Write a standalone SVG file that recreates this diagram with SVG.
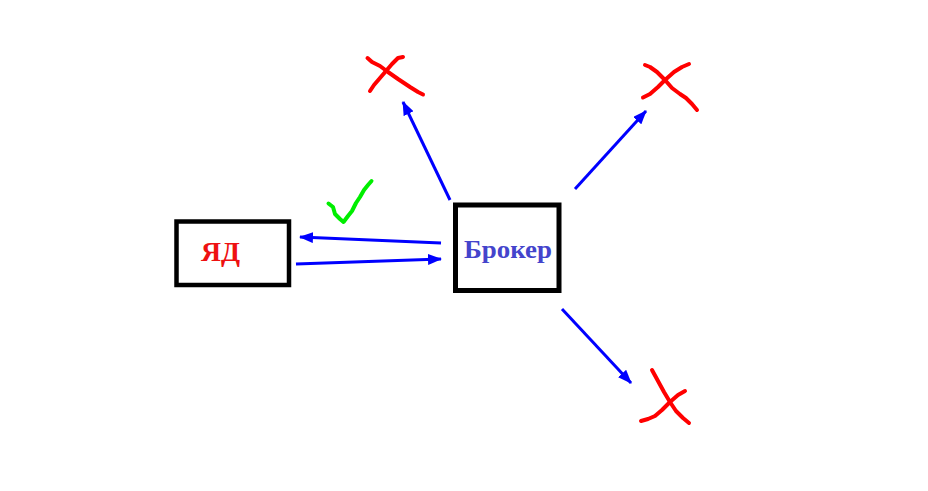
<svg xmlns="http://www.w3.org/2000/svg" width="928" height="491" viewBox="0 0 928 491">
<defs>
<marker id="ah" viewBox="0 0 14 11" refX="13" refY="5.5" markerWidth="14" markerHeight="11" markerUnits="userSpaceOnUse" orient="auto">
<path d="M0,0 L14,5.5 L0,11 z" fill="#0000ff"/>
</marker>
</defs>
<style>
.box{fill:#fff;stroke:#000}
.lbl{font-family:"Liberation Serif","Times New Roman",serif;font-weight:bold}
.arr{stroke:#0000ff;stroke-width:3;fill:none;marker-end:url(#ah)}
.x{stroke:#ff0000;stroke-width:4;fill:none;stroke-linecap:round;stroke-linejoin:round}
.ok{stroke:#00ee00;stroke-width:4;fill:none;stroke-linecap:round;stroke-linejoin:round}
</style>
<rect width="928" height="491" fill="#fff"/>
<g id="node-yad">
<rect class="box" x="176.5" y="221.5" width="112.5" height="63.5" stroke-width="4.5"/>
<text class="lbl" x="201" y="261" font-size="27" fill="#ee1111" textLength="39" lengthAdjust="spacingAndGlyphs">ЯД</text>
</g>
<g id="node-broker">
<rect class="box" x="455.5" y="205" width="103.5" height="85.5" stroke-width="5"/>
<text class="lbl" x="464" y="258" font-size="26" fill="#4444cc" textLength="88" lengthAdjust="spacingAndGlyphs">Брокер</text>
</g>
<g id="connectors">
<line class="arr" x1="441" y1="243" x2="300" y2="237"/>
<line class="arr" x1="296" y1="264" x2="441" y2="259"/>
<line class="arr" x1="450" y1="200" x2="403" y2="102"/>
<line class="arr" x1="575" y1="189" x2="646" y2="111"/>
<line class="arr" x1="562" y1="309" x2="631" y2="383"/>
</g>
<g id="mark-x1">
<path class="x" d="M367.5,58 L372,62 L380,66 L388,72 L398,79 L410,87 L418,92 L423,94.5"/>
<path class="x" d="M403,57 L398,58 L392,64 L386,71 L380,78 L374,85 L370,91"/>
</g>
<g id="mark-x2">
<path class="x" d="M645,65 L650,67 L657,72 L665,80 L672,88 L680,94 L686,98 L692,104 L697,110"/>
<path class="x" d="M689,64 L682,67 L674,72 L665,80 L658,87 L650,94 L643,97.5"/>
</g>
<g id="mark-x3">
<path class="x" d="M652,370 L658,381 L664,392 L670,402 L676,411 L683,418 L689,423"/>
<path class="x" d="M685,391 L678,395 L670,402 L662,410 L655,416 L648,419 L641,421"/>
</g>
<g id="mark-ok">
<path class="ok" d="M328.5,203.5 L333,207 L335,214 L340,219 L343.5,222 L348,216 L352,211 L356,203 L360,197 L364,190 L368,185 L371.5,181"/>
</g>
</svg>
